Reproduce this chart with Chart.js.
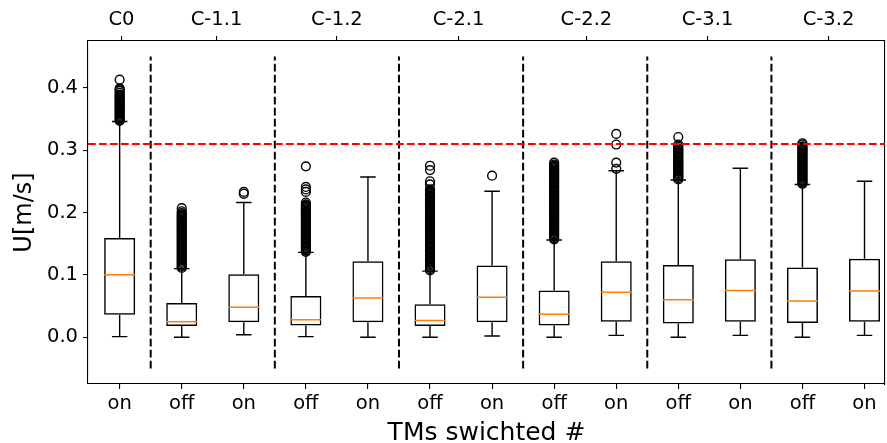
<!DOCTYPE html>
<html><head><meta charset="utf-8">
<script src="https://cdn.jsdelivr.net/npm/chart.js@4"></script>
<style>html,body{margin:0;padding:0;background:#fff}#wrap{width:887px;height:443px}</style>
</head><body><div id="wrap"><canvas id="c" width="887" height="443"></canvas></div>
<script>
// ---- data ----
const categories = ['on','off','on','off','on','off','on','off','on','off','on','off','on'];
const topLabels = ['C0','C-1.1','C-1.2','C-2.1','C-2.2','C-3.1','C-3.2'];
const topTickPos = [1.03, 2.56, 4.5, 6.46, 8.52, 10.47, 12.42];
const yTicks = [0.0, 0.1, 0.2, 0.3, 0.4];
const dividers = [1.5, 3.5, 5.5, 7.5, 9.5, 11.5];
const dividerRange = [-0.05, 0.45];
const threshold = 0.31;

const whiskerLo = [0.001, 0.000, 0.004, 0.001, 0.000, 0.000, 0.002, 0.000, 0.003, 0.000, 0.003, 0.000, 0.003];
const q1        = [0.036, 0.018, 0.024, 0.019, 0.024, 0.018, 0.024, 0.019, 0.025, 0.022, 0.025, 0.023, 0.025];
const median    = [0.100, 0.025, 0.048, 0.028, 0.063, 0.027, 0.064, 0.037, 0.072, 0.060, 0.075, 0.058, 0.074];
const q3        = [0.159, 0.055, 0.101, 0.066, 0.122, 0.053, 0.115, 0.075, 0.122, 0.116, 0.125, 0.112, 0.126];
const whiskerHi = [0.346, 0.110, 0.216, 0.136, 0.257, 0.106, 0.234, 0.156, 0.267, 0.252, 0.271, 0.245, 0.250];

const outliers0  = [0.347,0.349,0.351,0.353,0.355,0.357,0.359,0.361,0.363,0.365,0.367,0.369,0.371,0.373,0.375,0.377,0.379,0.381,0.383,0.385,0.387,0.389,0.392,0.395,0.397,0.399,0.413];
const outliers1  = [0.111,0.113,0.115,0.117,0.119,0.121,0.123,0.125,0.127,0.129,0.131,0.133,0.135,0.137,0.139,0.141,0.143,0.145,0.147,0.149,0.151,0.153,0.155,0.157,0.159,0.161,0.163,0.165,0.167,0.169,0.171,0.173,0.175,0.177,0.179,0.181,0.183,0.185,0.187,0.189,0.191,0.193,0.195,0.197,0.199,0.202,0.207];
const outliers2  = [0.230,0.233];
const outliers3  = [0.137,0.139,0.141,0.143,0.145,0.147,0.149,0.151,0.153,0.155,0.157,0.159,0.161,0.163,0.165,0.167,0.169,0.171,0.173,0.175,0.177,0.179,0.181,0.183,0.185,0.187,0.189,0.191,0.193,0.195,0.197,0.199,0.201,0.203,0.205,0.207,0.209,0.211,0.213,0.216,0.233,0.237,0.241,0.274];
const outliers4  = [];
const outliers5  = [0.107,0.109,0.111,0.113,0.115,0.117,0.119,0.121,0.123,0.125,0.127,0.129,0.131,0.133,0.135,0.137,0.139,0.141,0.143,0.145,0.147,0.149,0.151,0.153,0.155,0.157,0.159,0.161,0.163,0.165,0.167,0.169,0.171,0.173,0.175,0.177,0.179,0.181,0.183,0.185,0.187,0.189,0.191,0.193,0.195,0.197,0.199,0.201,0.203,0.205,0.207,0.209,0.211,0.213,0.215,0.217,0.219,0.221,0.223,0.225,0.227,0.229,0.231,0.233,0.235,0.237,0.245,0.250,0.268,0.275];
const outliers6  = [0.259];
const outliers7  = [0.157,0.159,0.161,0.163,0.165,0.167,0.169,0.171,0.173,0.175,0.177,0.179,0.181,0.183,0.185,0.187,0.189,0.191,0.193,0.195,0.197,0.199,0.201,0.203,0.205,0.207,0.209,0.211,0.213,0.215,0.217,0.219,0.221,0.223,0.225,0.227,0.229,0.231,0.233,0.235,0.237,0.239,0.241,0.243,0.245,0.247,0.249,0.251,0.253,0.255,0.257,0.259,0.261,0.263,0.265,0.267,0.269,0.271,0.273,0.275,0.277,0.280];
const outliers8  = [0.270,0.280,0.309,0.326];
const outliers9  = [0.253,0.255,0.257,0.259,0.261,0.263,0.265,0.267,0.269,0.271,0.273,0.275,0.277,0.279,0.281,0.283,0.285,0.287,0.289,0.291,0.293,0.295,0.297,0.299,0.301,0.303,0.306,0.309,0.321];
const outliers10 = [];
const outliers11 = [0.246,0.248,0.250,0.252,0.254,0.256,0.258,0.260,0.262,0.264,0.266,0.268,0.270,0.272,0.274,0.276,0.278,0.280,0.282,0.284,0.286,0.288,0.290,0.292,0.294,0.296,0.298,0.300,0.302,0.304,0.306,0.309,0.311];
const outliers12 = [];
const outlierSets = [outliers0,outliers1,outliers2,outliers3,outliers4,outliers5,outliers6,outliers7,outliers8,outliers9,outliers10,outliers11,outliers12];

// ---- view / style ----
const xMin = 0.49, xMax = 13.33, yMin = -0.075, yMax = 0.475;
const boxHalf = 0.25, capHalf = 0.125;
const FONT = "'DejaVu Sans', sans-serif";

// ---- build library datasets ----
const medianPts = [], whiskerPts = [], capPts = [], outlierPts = [];
categories.forEach((_, i) => {
  const p = i + 1;
  medianPts.push({x:p-boxHalf,y:median[i]},{x:p+boxHalf,y:median[i]},{x:p,y:null});
  whiskerPts.push({x:p,y:q3[i]},{x:p,y:whiskerHi[i]},{x:p,y:null},{x:p,y:q1[i]},{x:p,y:whiskerLo[i]},{x:p,y:null});
  capPts.push({x:p-capHalf,y:whiskerHi[i]},{x:p+capHalf,y:whiskerHi[i]},{x:p,y:null},{x:p-capHalf,y:whiskerLo[i]},{x:p+capHalf,y:whiskerLo[i]},{x:p,y:null});
  outlierSets[i].forEach(v => outlierPts.push({x:p,y:v}));
});
const dividerPts = [];
dividers.forEach(d => dividerPts.push({x:d,y:dividerRange[0]},{x:d,y:dividerRange[1]},{x:d,y:null}));
const thresholdPts = [{x:xMin,y:threshold},{x:xMax,y:threshold}];

const lineBase = {type:'line', pointRadius:0, pointHoverRadius:0, fill:false, tension:0, spanGaps:false, xAxisID:'x', yAxisID:'y'};

const tickGrid = {display:true, drawOnChartArea:false, drawTicks:true, tickLength:5, color:'#000', lineWidth:1.1, offset:false};
const border = {display:true, color:'#000', width:1.1};
const noPad = (s) => { s.paddingLeft = 0; s.paddingRight = 0; s.paddingTop = 0; s.paddingBottom = 0; };

new Chart(document.getElementById('c'), {
  type:'bar',
  data:{datasets:[
    Object.assign({}, lineBase, {label:'threshold', data:thresholdPts, borderColor:'#ff0000', borderWidth:2, borderDash:[7.7,3.3], order:0}),
    Object.assign({}, lineBase, {label:'dividers', data:dividerPts, borderColor:'#000', borderWidth:2, borderDash:[7.7,3.3], order:1}),
    Object.assign({}, lineBase, {label:'median', data:medianPts, borderColor:'#ff7f0e', borderWidth:1.5, order:2}),
    {type:'bar', label:'box', data:categories.map((_, i) => ({x:i+1, y:[q1[i], q3[i]]})),
     backgroundColor:'rgba(0,0,0,0)', borderColor:'#000', borderWidth:1.5, borderSkipped:false,
     barPercentage:0.5, categoryPercentage:1, xAxisID:'x', yAxisID:'y', order:3},
    Object.assign({}, lineBase, {label:'whiskers', data:whiskerPts, borderColor:'#000', borderWidth:1.4, order:4}),
    Object.assign({}, lineBase, {label:'caps', data:capPts, borderColor:'#000', borderWidth:1.4, order:4}),
    {type:'scatter', label:'outliers', data:outlierPts, pointStyle:'circle', pointRadius:4.4, pointHoverRadius:4.4,
     pointBorderWidth:1.4, borderWidth:1.4, pointBorderColor:'#000', borderColor:'#000',
     pointBackgroundColor:'rgba(0,0,0,0)', backgroundColor:'rgba(0,0,0,0)', showLine:false, xAxisID:'x', yAxisID:'y', order:5}
  ]},
  options:{
    responsive:false, animation:false, devicePixelRatio:1, events:[],
    layout:{padding:0, autoPadding:false},
    plugins:{legend:{display:false}, tooltip:{enabled:false}},
    scales:{
      x:{type:'linear', axis:'x', position:'bottom', min:xMin, max:xMax, offset:false,
         grid:tickGrid, border:border,
         ticks:{autoSkip:false, maxRotation:0, minRotation:0, padding:3, color:'#000', font:{family:FONT, size:19.5},
                callback:(v) => categories[Math.round(v) - 1]},
         afterBuildTicks:(s) => { s.ticks = categories.map((_, i) => ({value:i+1})); },
         afterFit:(s) => { s.height = 59; noPad(s); },
         title:{display:true, text:'TMs swichted #', color:'#000', font:{family:FONT, size:25, lineHeight:0.8}, padding:{top:0, bottom:0}}},
      xTop:{type:'linear', axis:'x', position:'top', min:xMin, max:xMax, offset:false,
         grid:tickGrid, border:border,
         ticks:{autoSkip:false, maxRotation:0, minRotation:0, padding:4.6, color:'#000', font:{family:FONT, size:19.5},
                callback:(v) => topLabels[topTickPos.indexOf(v)]},
         afterBuildTicks:(s) => { s.ticks = topTickPos.map(v => ({value:v})); },
         afterFit:(s) => { s.height = 41; noPad(s); }},
      y:{type:'linear', axis:'y', position:'left', min:yMin, max:yMax,
         grid:tickGrid, border:border,
         ticks:{padding:5, color:'#000', font:{family:FONT, size:19.5}, callback:(v) => v.toFixed(1)},
         afterBuildTicks:(s) => { s.ticks = yTicks.map(v => ({value:v})); },
         afterFit:(s) => { s.width = 88; noPad(s); },
         title:{display:true, text:'U[m/s]', color:'#000', font:{family:FONT, size:24}, padding:{top:10.6, bottom:0}}},
      yRight:{type:'linear', axis:'y', position:'right', min:yMin, max:yMax,
         grid:{display:false}, border:border, ticks:{display:false},
         afterFit:(s) => { s.width = 2; noPad(s); }}
    }
  }
});
</script>
</body></html>
